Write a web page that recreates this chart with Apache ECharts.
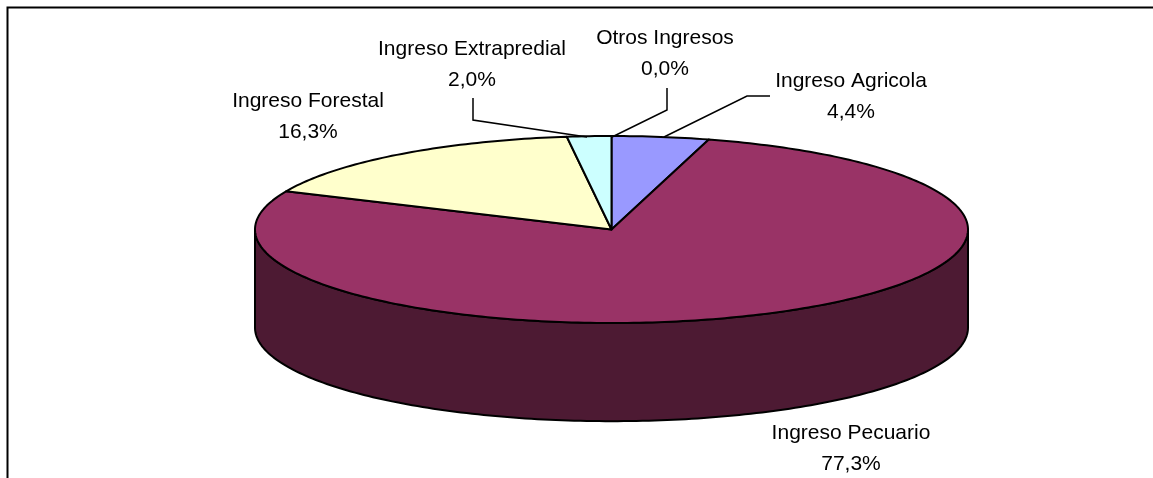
<!DOCTYPE html>
<html>
<head>
<meta charset="utf-8">
<style>
  html, body { margin: 0; padding: 0; background: #fff; }
  #main { width: 1153px; height: 478px; }
</style>
<script src="https://cdn.jsdelivr.net/npm/echarts@6/dist/echarts.min.js"></script>
</head>
<body>
<div id="main"></div>
<script>
const categories = ['Ingreso Agricola', 'Ingreso Pecuario', 'Ingreso Forestal', 'Ingreso Extrapredial', 'Otros Ingresos'];
const shares = [4.4, 77.3, 16.3, 2.0, 0.0];
const topColors = ['#9999FF', '#993366', '#FFFFCC', '#CCFFFF', '#660066'];
const wallColors = ['#4D4D80', '#4D1A33', '#808066', '#668080', '#330033'];

// label centres and leader lines, in pixels
const labelCenters = [[851, 97], [851, 449], [308, 117], [472, 65], [665, 54]];
const leaders = [
  [[770, 96], [747, 96], [664, 137]],
  null,
  null,
  [[473, 98], [473, 120], [587, 137]],
  [[667, 88], [667, 110], [612, 137]]
];

// the wall depth in units of the top ellipse's vertical radius
const wallDepth = 1.05;

const total = shares.reduce((a, b) => a + b, 0);

function ellipsePoint(api, deg, drop) {
  const rad = deg * Math.PI / 180;
  return api.coord([Math.sin(rad), Math.cos(rad) - (drop || 0)]);
}

function arcPoints(api, from, to, drop) {
  const pts = [];
  const steps = Math.max(2, Math.ceil(Math.abs(to - from)));
  for (let i = 0; i <= steps; i++) {
    pts.push(ellipsePoint(api, from + (to - from) * i / steps, drop));
  }
  return pts;
}

const lineStyle = { stroke: '#000', lineWidth: 2, lineJoin: 'round' };

function renderSlice(params, api) {
  const idx = api.value(0);
  const start = api.value(1) / total * 360;
  const end = api.value(2) / total * 360;
  const children = [];

  // the side wall only shows on the front half
  const wallFrom = Math.max(start, 90);
  const wallTo = Math.min(end, 270);
  if (wallTo > wallFrom) {
    const upper = arcPoints(api, wallFrom, wallTo, 0);
    const lower = arcPoints(api, wallTo, wallFrom, wallDepth);
    children.push({
      type: 'polygon',
      shape: { points: upper.concat(lower) },
      style: Object.assign({ fill: wallColors[idx] }, lineStyle)
    });
  }

  if (end > start) {
    const pts = [api.coord([0, 0])].concat(arcPoints(api, start, end, 0));
    children.push({
      type: 'polygon',
      shape: { points: pts },
      style: Object.assign({ fill: topColors[idx] }, lineStyle)
    });
  }

  return { type: 'group', children: children };
}

function renderLabel(params, api) {
  const idx = api.value(0);
  const children = [{
    type: 'text',
    style: {
      x: labelCenters[idx][0],
      y: labelCenters[idx][1],
      text: categories[idx] + '\n' + shares[idx].toFixed(1).replace('.', ',') + '%',
      fill: '#000',
      font: '21px "Liberation Sans", Arial, sans-serif',
      lineHeight: 31,
      align: 'center',
      verticalAlign: 'middle'
    }
  }];
  if (leaders[idx]) {
    children.push({
      type: 'polyline',
      shape: { points: leaders[idx] },
      style: { stroke: '#000', lineWidth: 1.5, fill: null }
    });
  }
  return { type: 'group', children: children };
}

let running = 0;
const sliceData = shares.map((v, i) => {
  const row = [i, running, running + v];
  running += v;
  return row;
});

const chart = echarts.init(document.getElementById('main'), null, { renderer: 'canvas' });

const option = {
  animation: false,
  backgroundColor: '#fff',
  grid: { left: 255, width: 713, top: 136, height: 187 },
  xAxis: { type: 'value', min: -1, max: 1, show: false },
  yAxis: { type: 'value', min: -1, max: 1, show: false },
  graphic: [{
    type: 'polyline',
    shape: { points: [[7.5, 478], [7.5, 7.5], [1153, 7.5]] },
    style: { stroke: '#000', lineWidth: 2, fill: null }
  }],
  series: [
    { type: 'custom', clip: false, silent: true, renderItem: renderSlice, data: sliceData, z: 2 },
    { type: 'custom', clip: false, silent: true, renderItem: renderLabel, data: sliceData, z: 3 }
  ]
};

chart.setOption(option);
</script>
</body>
</html>
